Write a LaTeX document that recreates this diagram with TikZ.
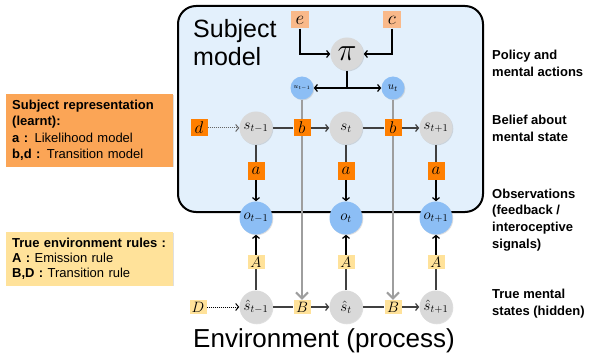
\RequirePackage{fix-cm}
\documentclass[tikz,border=0pt]{standalone}
\usepackage[no-math]{fontspec}
\setmainfont{Liberation Sans}
\usetikzlibrary{arrows.meta,shadows}
\definecolor{subjbg}{HTML}{E3F0FC}
\definecolor{nodegray}{HTML}{D9D9D9}
\definecolor{nodeblue}{HTML}{8CBEF5}
\definecolor{darkorange}{HTML}{FF7F00}
\definecolor{lightorange}{HTML}{F9B98A}
\definecolor{reporange}{HTML}{FBA556}
\definecolor{envyellow}{HTML}{FFE29A}
\definecolor{wireline}{HTML}{9E9E9E}
\pgfdeclarelayer{bg}
\pgfdeclarelayer{lines}
\pgfsetlayers{bg,lines,main}
\tikzset{
  shad/.style={drop shadow={shadow xshift=0.8pt,shadow yshift=-0.8pt,opacity=0.25}},
  gnode/.style={circle,fill=nodegray,minimum size=33pt,inner sep=0pt,shad,font=\fontsize{15}{15}\selectfont},
  bnode/.style={circle,fill=nodeblue,minimum size=33pt,inner sep=0pt,shad,font=\fontsize{15}{15}\selectfont},
  unode/.style={circle,fill=nodeblue,minimum size=23pt,inner sep=0pt,shad,font=\fontsize{11}{11}\selectfont},
  obox/.style={fill=darkorange,minimum width=17pt,minimum height=17pt,inner sep=0pt,font=\fontsize{17}{17}\selectfont},
  lobox/.style={fill=lightorange,minimum width=18pt,minimum height=17pt,inner sep=0pt,font=\fontsize{19}{19}\selectfont},
  ybox/.style={fill=envyellow,minimum width=17pt,minimum height=14pt,inner sep=0pt,font=\fontsize{15}{15}\selectfont},
  lbox/.style={anchor=north west,text width=155pt,inner xsep=6pt,inner ysep=6pt,align=left,shad},
  rlabel/.style={anchor=west,align=left,inner sep=0pt,font=\fontsize{13}{16.7}\selectfont\bfseries},
  arr/.style={-{Straight Barb[length=3pt,width=7pt]}},
  darr/.style={{Straight Barb[length=3pt,width=7pt]}-{Straight Barb[length=3pt,width=7pt]}},
  wire/.style={wireline,line width=2pt,-{Straight Barb[length=6pt,width=12pt]}},
  link/.style={black!75,line width=1.2pt}
}
\begin{document}
\begin{tikzpicture}[x=1pt,y=-1pt]
  \useasboundingbox (0,0) rectangle (590,361);
  \begin{pgfonlayer}{bg}
    \draw[fill=subjbg,line width=2pt,rounded corners=18pt] (178,6) rectangle (483,212);
  \end{pgfonlayer}
  \node[anchor=north west,align=left,inner sep=0pt,font=\fontsize{25}{28}\selectfont] (title) at (193,19) {Subject\\model};
  \node[inner sep=0pt,anchor=base,font=\fontsize{26}{26}\selectfont] (env) at (324,347) {Environment (process)};

  \node[lobox] (e) at (300,20) {$e$};
  \node[lobox] (c) at (392,20) {$c$};
  \node[gnode,font=\fontsize{32}{32}\selectfont] (pi) at (347,54) {$\pi$};
  \node[unode,font=\fontsize{7}{7}\selectfont] (um) at (302,88) {$u_{t-1}$};
  \node[unode] (ut) at (393,88) {$u_t$};

  \node[obox] (d) at (199,128) {$d$};
  \node[gnode] (sm) at (256,128) {$s_{t-1}$};
  \node[obox] (bm) at (302,128) {$b$};
  \node[gnode] (s0) at (346,128) {$s_t$};
  \node[obox] (bp) at (393,128) {$b$};
  \node[gnode] (sp) at (436,128) {$s_{t+1}$};

  \node[obox] (am) at (256,171) {$a$};
  \node[obox] (a0) at (346,171) {$a$};
  \node[obox] (ap) at (436,171) {$a$};

  \node[bnode] (om) at (256,218) {$o_{t-1}$};
  \node[bnode] (o0) at (346,218) {$o_t$};
  \node[bnode] (op) at (436,218) {$o_{t+1}$};

  \node[ybox] (Am) at (256,262) {$A$};
  \node[ybox] (A0) at (346,262) {$A$};
  \node[ybox] (Ap) at (436,262) {$A$};

  \node[ybox] (D) at (198,307) {$D$};
  \node[gnode] (hm) at (256,307) {$\hat{s}_{t-1}$};
  \node[ybox] (Bm) at (302,307) {$B$};
  \node[gnode] (h0) at (346,307) {$\hat{s}_t$};
  \node[ybox] (Bp) at (393,307) {$B$};
  \node[gnode] (hp) at (436,307) {$\hat{s}_{t+1}$};

  \begin{pgfonlayer}{lines}
    \draw[wire] (um) -- (Bm);
    \draw[wire] (ut) -- (Bp);
    \draw[arr,line width=1.2pt] (e) |- (pi);
    \draw[arr,line width=1.2pt] (c) |- (pi);
    \draw[line width=1.2pt] (pi) -- (pi |- um);
    \draw[darr,line width=1.2pt] (um) -- (ut);
    \draw[arr,densely dotted,black!60,line width=1pt] (d) -- (sm);
    \draw[link] (sm) -- (bm);
    \draw[link,arr] (bm) -- (s0);
    \draw[link] (s0) -- (bp);
    \draw[link,arr] (bp) -- (sp);
    \draw[link] (sm) -- (am);
    \draw[link] (s0) -- (a0);
    \draw[link] (sp) -- (ap);
    \draw[arr,line width=1.2pt] (am) -- (om);
    \draw[arr,line width=1.2pt] (a0) -- (o0);
    \draw[arr,line width=1.2pt] (ap) -- (op);
    \draw[link] (hm) -- (Am);
    \draw[link] (h0) -- (A0);
    \draw[link] (hp) -- (Ap);
    \draw[arr,line width=1.2pt] (Am) -- (om);
    \draw[arr,line width=1.2pt] (A0) -- (o0);
    \draw[arr,line width=1.2pt] (Ap) -- (op);
    \draw[arr,densely dotted,line width=1pt] (D) -- (hm);
    \draw[link] (hm) -- (Bm);
    \draw[link,arr] (Bm) -- (h0);
    \draw[link] (h0) -- (Bp);
    \draw[link,arr] (Bp) -- (hp);
  \end{pgfonlayer}

  \node[lbox,fill=reporange,font=\fontsize{13}{16.3}\selectfont] (rep) at (6,94)
    {\textbf{Subject representation}\\\textbf{(learnt):}\\\textbf{a :} Likelihood model\\\textbf{b,d :} Transition model};
  \node[lbox,fill=envyellow,font=\fontsize{13}{15}\selectfont] (rules) at (6,232)
    {\textbf{True environment rules :}\\\textbf{A :} Emission rule\\\textbf{B,D :} Transition rule};

  \node[rlabel] (lpol) at (492,63.5) {Policy and\\mental actions};
  \node[rlabel] (lbel) at (492,128.5) {Belief about\\mental state};
  \node[rlabel] (lobs) at (492,220) {Observations\\(feedback /\\interoceptive\\signals)};
  \node[rlabel] (ltru) at (492,303.5) {True mental\\states (hidden)};
\end{tikzpicture}
\end{document}
